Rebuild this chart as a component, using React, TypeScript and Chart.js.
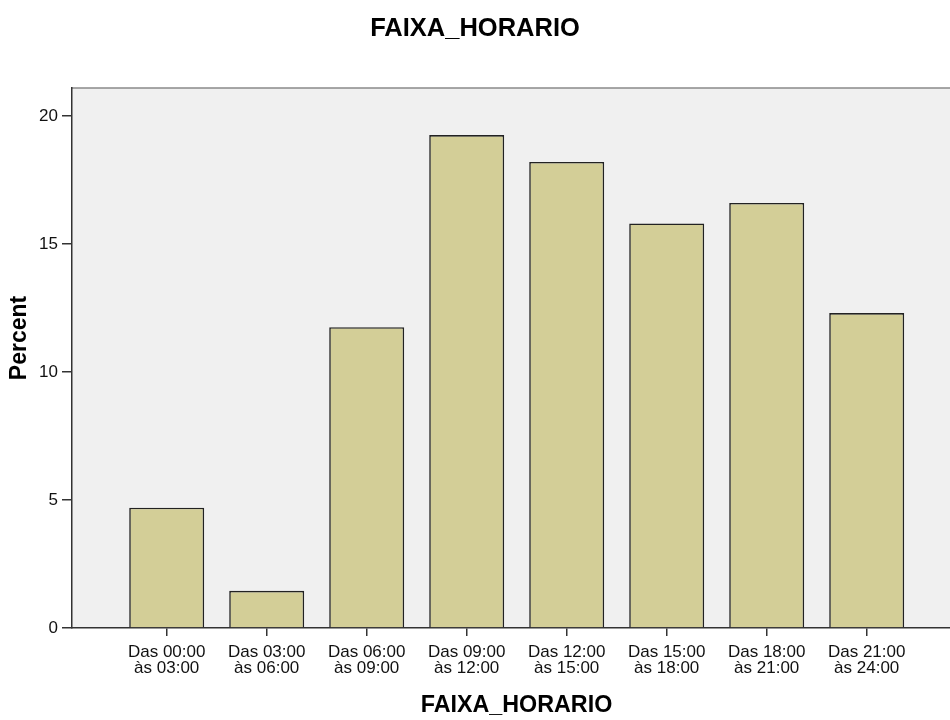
import React, { useEffect, useRef } from "react";
import { Chart, registerables } from "chart.js";

Chart.register(...registerables);

const categories: string[][] = [
  ["Das 00:00", "às 03:00"],
  ["Das 03:00", "às 06:00"],
  ["Das 06:00", "às 09:00"],
  ["Das 09:00", "às 12:00"],
  ["Das 12:00", "às 15:00"],
  ["Das 15:00", "às 18:00"],
  ["Das 18:00", "às 21:00"],
  ["Das 21:00", "às 24:00"],
];
const percentValues: number[] = [4.7, 1.45, 11.75, 19.25, 18.2, 15.8, 16.6, 12.3];
const yTickValues: number[] = [0, 5, 10, 15, 20];
const chartTitle = "FAIXA_HORARIO";
const xAxisTitle = "FAIXA_HORARIO";
const yAxisTitle = "Percent";

const FONT = "'Liberation Sans', Arial, sans-serif";

const plotBg = {
  id: "plotBg",
  beforeDraw(chart: any) {
    const { ctx, chartArea } = chart;
    if (!chartArea) return;
    ctx.save();
    ctx.fillStyle = "#f0f0f0";
    ctx.fillRect(chartArea.left, chartArea.top, chartArea.right - chartArea.left, chartArea.bottom - chartArea.top);
    ctx.strokeStyle = "#8a8a8a";
    ctx.lineWidth = 1.5;
    ctx.beginPath();
    ctx.moveTo(chartArea.left, chartArea.top);
    ctx.lineTo(chartArea.right, chartArea.top);
    ctx.stroke();
    ctx.restore();
  },
  afterDraw(chart: any) {
    const { ctx, chartArea } = chart;
    if (!chartArea) return;
    ctx.save();
    ctx.fillStyle = "#000";
    ctx.textAlign = "center";
    ctx.textBaseline = "middle";
    ctx.font = `bold 23.3px ${FONT}`;
    ctx.fillText(xAxisTitle, chartArea.left + 444.5, chartArea.bottom + 78);
    ctx.font = `bold 23px ${FONT}`;
    ctx.translate(20, chartArea.top + 250);
    ctx.rotate(-Math.PI / 2);
    ctx.fillText(yAxisTitle, 0, 0);
    ctx.restore();
  },
};

export default function App() {
  const ref = useRef<HTMLCanvasElement | null>(null);
  useEffect(() => {
    if (!ref.current) return;
    const chart = new Chart(ref.current, {
      type: "bar",
      data: {
        datasets: [
          {
            label: yAxisTitle,
            data: percentValues.map((v, i) => ({ x: i, y: v })),
            backgroundColor: "#d3ce97",
            borderColor: "#222",
            borderWidth: 1.6,
            barPercentage: 0.75,
            categoryPercentage: 1,
          },
        ],
      },
      options: {
        animation: false,
        responsive: false,
        layout: { padding: 0 },
        plugins: {
          legend: { display: false },
          tooltip: { enabled: false },
          title: {
            display: true,
            text: chartTitle,
            color: "#000",
            font: { family: FONT, size: 25.5, weight: "bold", lineHeight: 1.2 },
            padding: { top: 14, bottom: 43.4 },
          },
        },
        scales: {
          x: {
            type: "linear",
            offset: false,
            min: -0.947,
            max: 7.833,
            afterBuildTicks: (scale: any) => {
              scale.ticks = categories.map((_, i) => ({ value: i }));
            },
            afterFit: (scale: any) => {
              scale.height = 92;
            },
            ticks: {
              color: "#111",
              padding: 9,
              maxRotation: 0,
              autoSkip: false,
              font: { family: FONT, size: 17, lineHeight: 0.9 },
              callback: (v: any) => categories[Math.round(Number(v))] ?? "",
            },
            grid: {
              display: true,
              offset: false,
              drawOnChartArea: false,
              drawTicks: true,
              tickLength: 8,
              color: "#333",
              lineWidth: 1.5,
            },
            border: { display: true, color: "#333", width: 1.5 },
            title: { display: false },
          },
          y: {
            type: "linear",
            min: 0,
            max: 21.09,
            afterBuildTicks: (scale: any) => {
              scale.ticks = yTickValues.map((v) => ({ value: v }));
            },
            afterFit: (scale: any) => {
              scale.width = 72;
            },
            ticks: {
              color: "#111",
              padding: 4,
              font: { family: FONT, size: 17 },
            },
            grid: {
              display: true,
              drawOnChartArea: false,
              drawTicks: true,
              tickLength: 10,
              color: "#333",
              lineWidth: 1.5,
            },
            border: { display: true, color: "#333", width: 1.5 },
            title: { display: false },
          },
        },
      },
      plugins: [plotBg],
    } as any);
    return () => chart.destroy();
  }, []);
  return (
    <div style={{ position: "absolute", left: 0, top: 0, width: 950, height: 720, background: "#fff" }}>
      <canvas ref={ref} width={950} height={720} style={{ display: "block" }} />
    </div>
  );
}
